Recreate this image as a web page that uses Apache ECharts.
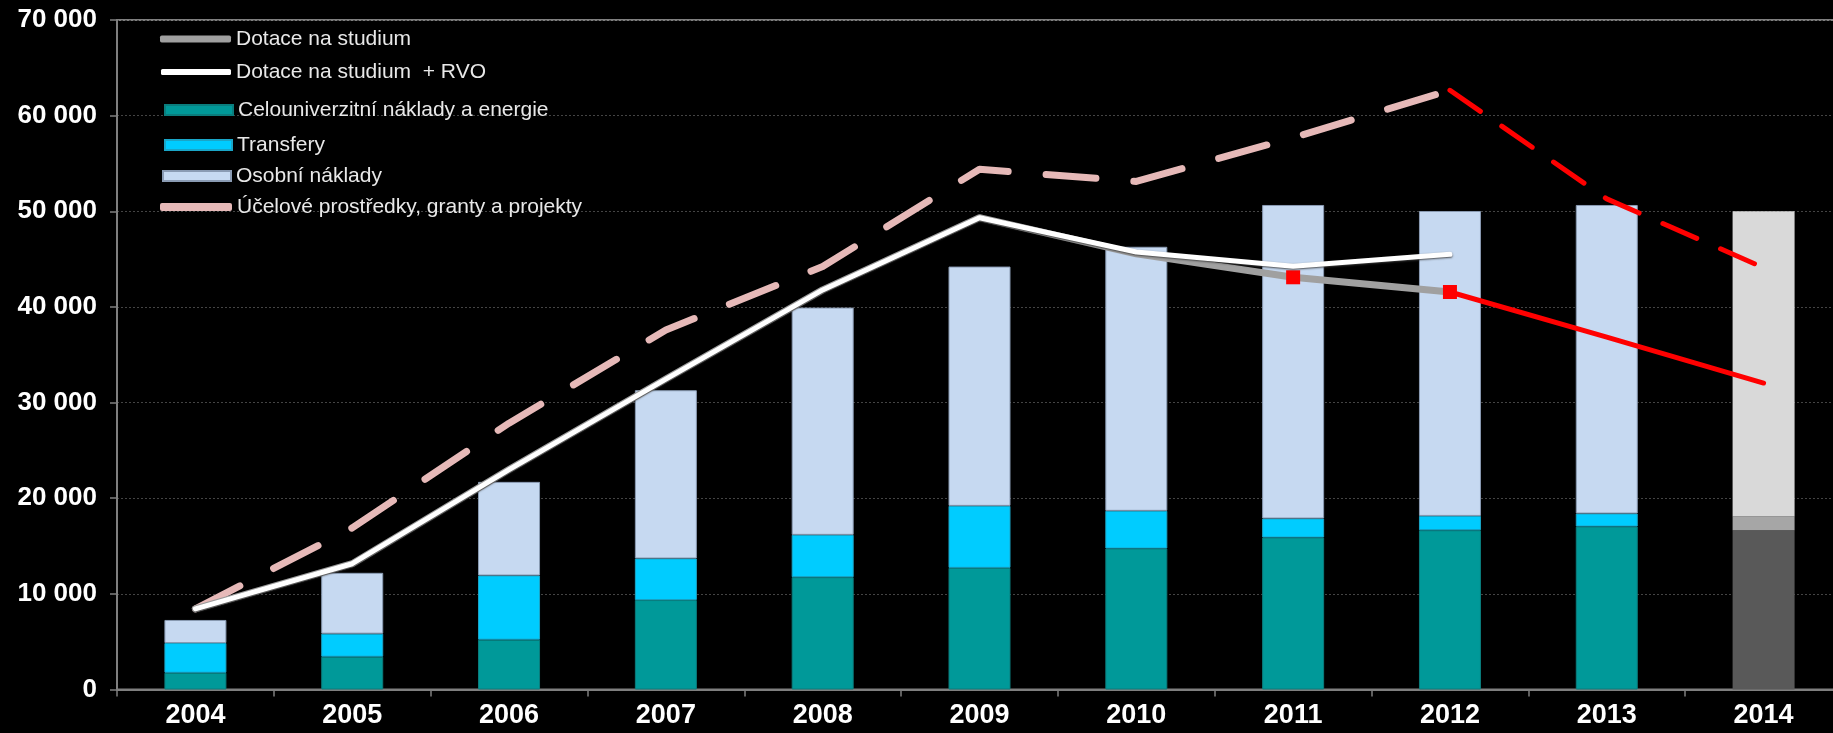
<!DOCTYPE html>
<html><head><meta charset="utf-8">
<script src="https://cdn.jsdelivr.net/npm/echarts@6/dist/echarts.min.js"></script>
<style>html,body{margin:0;padding:0;background:#000;} #c{width:1833px;height:733px;}</style>
</head><body><div id="c"></div>
<script>
// ---- data ----
const years = ['2004','2005','2006','2007','2008','2009','2010','2011','2012','2013','2014'];
const celouniverzitni = [1750, 3430, 5210, 9350, 11740, 12720, 14740, 15890, 16650, 17040, 16650];
const transfery       = [3110, 2410, 6710, 4350, 4430, 6480, 3940, 1990, 1500, 1360, 1430];
const osobni          = [2410, 6360, 9790, 17590, 23760, 25020, 27610, 32780, 31880, 32260, 31920];
const dotaceNaStudium = [8430, 13150, 23000, 32460, 41780, 49330, 45550, 43100, 41560, null, null];
const dotaceRVO       = [8430, 13150, 23000, 32460, 41780, 49330, 45750, 44250, 45500, null, null];
const ucelove         = [8430, 16900, 27850, 37590, 44220, 54400, 53120, 57700, 62650, null, null];
const ucelovePrognoza = [null, null, null, null, null, null, null, null, 62650, 51300, 44100];
const dotacePrognoza  = [null, null, null, null, null, null, null, null, 41560, 36850, 32040];
const markedYears = ['2011', '2012'];
const yMax = 70000, yStep = 10000;

// ---- chart ----
const FONT = 'Liberation Sans';
const last = years.length - 1;
function barData(vals, lastColor) {
  return vals.map((v, i) => i === last ? {value: v, itemStyle: {color: lastColor, borderWidth: 0}} : v);
}
const names = {
  d: 'Dotace na studium',
  r: 'Dotace na studium  + RVO',
  c: 'Celouniverzitní náklady a energie',
  t: 'Transfery',
  o: 'Osobní náklady',
  u: 'Účelové prostředky, granty a projekty'
};
function leg(name, left, cy, w, h, icon, extra) {
  return Object.assign({
    data: [name], left: left, top: cy - 12, orient: 'vertical',
    itemWidth: w, itemHeight: h, icon: icon, selectedMode: false,
    padding: 0,
    textStyle: {color: '#e8e8e8', fontSize: 21, fontFamily: FONT, lineHeight: 24}
  }, extra || {});
}

const chart = echarts.init(document.getElementById('c'), null, {renderer: 'canvas'});
chart.setOption({
  backgroundColor: '#000',
  animation: false,
  grid: {left: 117, top: 20, width: 1725, bottom: 43.5, outerBoundsMode: 'none', containLabel: false,
         show: true, borderColor: '#7f7f7f', borderWidth: 2, backgroundColor: 'transparent'},
  legend: [
    leg(names.d, 160, 39, 71, 7, 'roundRect'),
    leg(names.r, 161, 72, 70, 6, 'roundRect'),
    leg(names.c, 164, 110, 68, 10, 'rect'),
    leg(names.t, 164, 145, 67, 10, 'rect'),
    leg(names.o, 162, 176, 68, 10, 'rect'),
    leg(names.u, 160, 207, 72, 8, 'roundRect')
  ],
  xAxis: {
    type: 'category', data: years,
    axisLine: {lineStyle: {color: '#7f7f7f', width: 2}},
    axisTick: {show: true, length: 7, lineStyle: {color: '#7f7f7f', width: 1.5}},
    axisLabel: {color: '#fff', fontSize: 27, fontWeight: 'bold', fontFamily: FONT, margin: 13}
  },
  yAxis: {
    type: 'value', min: 0, max: yMax, interval: yStep,
    axisLine: {show: true, lineStyle: {color: '#7f7f7f', width: 2}},
    axisTick: {show: true, length: 7, lineStyle: {color: '#7f7f7f', width: 1.5}},
    splitLine: {show: true, lineStyle: {color: '#444', width: 1, type: [2, 2]}},
    axisLabel: {
      color: '#fff', fontSize: 26, fontWeight: 'bold', fontFamily: FONT, margin: 20,
      formatter: v => v === 0 ? '0' : (v / 1000) + ' 000'
    }
  },
  series: [
    {name: names.c, type: 'bar', stack: 'b', barWidth: 62, data: barData(celouniverzitni, '#595959'),
     itemStyle: {color: '#009999', borderColor: '#0a7d7d', borderWidth: 1}},
    {name: names.t, type: 'bar', stack: 'b', barWidth: 62, data: barData(transfery, '#a6a6a6'),
     itemStyle: {color: '#00ccff', borderColor: '#1aa6c8', borderWidth: 1}},
    {name: names.o, type: 'bar', stack: 'b', barWidth: 62, data: barData(osobni, '#d9d9d9'),
     itemStyle: {color: '#c6d9f1', borderColor: '#8a9bb3', borderWidth: 1}},
    {name: names.u, type: 'line', data: ucelove, symbol: 'none', z: 3,
     itemStyle: {color: '#e6b9b8'},
     lineStyle: {color: '#e6b9b8', width: 7, type: [50, 38], cap: 'round', join: 'round'}},
    {name: names.d, type: 'line', z: 4, showSymbol: true, showAllSymbol: true, symbol: 'rect',
     data: dotaceNaStudium.map((v, i) => markedYears.includes(years[i])
       ? {value: v, symbol: 'rect', symbolSize: 14, itemStyle: {color: '#ff0000'}}
       : {value: v, symbol: 'none'}),
     itemStyle: {color: '#a0a0a0'},
     lineStyle: {color: '#a0a0a0', width: 7, cap: 'round', join: 'round'}},
    {name: names.r, type: 'line', data: dotaceRVO, symbol: 'none', z: 5,
     itemStyle: {color: '#ffffff'},
     lineStyle: {color: '#ffffff', width: 5, cap: 'round', join: 'round', shadowColor: 'rgba(60,60,60,0.9)', shadowBlur: 2, shadowOffsetY: 1}},
    {name: 'prognoza1', type: 'line', data: ucelovePrognoza, symbol: 'none', z: 6,
     itemStyle: {color: '#ff0000'},
     lineStyle: {color: '#ff0000', width: 5, type: [37, 26], cap: 'round'}},
    {name: 'prognoza2', type: 'line', data: dotacePrognoza, symbol: 'none', z: 3,
     itemStyle: {color: '#ff0000'},
     lineStyle: {color: '#ff0000', width: 5, cap: 'round'}}
  ]
});
</script></body></html>
